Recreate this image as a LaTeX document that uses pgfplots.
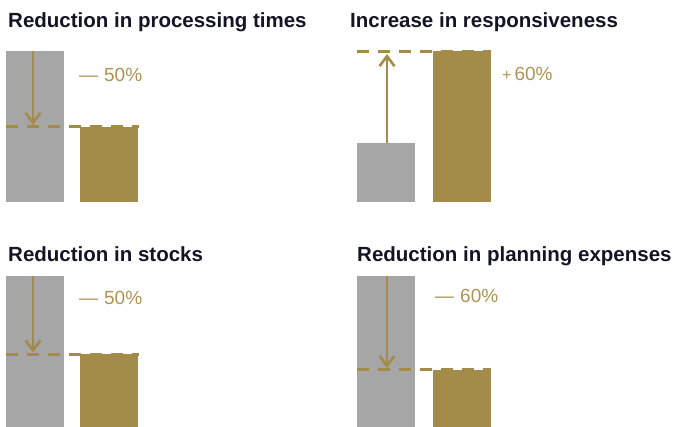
\documentclass[border=0pt]{standalone}
\usepackage{pgfplots}
\pgfplotsset{compat=1.18}
\usepackage{fontspec}
\setmainfont{Liberation Sans}
\usetikzlibrary{arrows.meta}

\definecolor{barGray}{RGB}{166,166,166}
\definecolor{barGold}{RGB}{163,139,74}
\definecolor{txtGold}{RGB}{172,148,86}
\definecolor{titleInk}{RGB}{20,20,36}

\pgfplotsset{
  panel/.style={
    scale only axis, axis lines=none, clip=false,
    xmin=0, xmax=140, ymin=0, ymax=100, width=140pt,
    xtick=\empty, ytick=\empty, anchor=south west,
  },
  grayBar/.style={ybar, bar width=58, bar shift=0pt, fill=barGray, draw=none},
  goldBar/.style={ybar, bar width=58, bar shift=0pt, fill=barGold, draw=none},
  level/.style={barGold, line width=3pt, dash pattern=on 12pt off 9pt},
  move/.style={barGold, line width=2.6pt, -{Straight Barb[length=10pt,width=15pt,line width=2.6pt]}},
}
\newcommand\titlefont{\fontsize{20.5}{24}\selectfont\bfseries}
\newcommand\labelfont{\fontsize{19}{22}\selectfont}

\begin{document}
\begin{tikzpicture}
\useasboundingbox (0pt,0pt) rectangle (676pt,-426pt);
\clip (0pt,0pt) rectangle (676pt,-426pt);

% titles
\node[anchor=base west, inner sep=0pt, text=titleInk, font=\titlefont] at (8pt,-27pt) {Reduction in processing times};
\node[anchor=base west, inner sep=0pt, text=titleInk, font=\titlefont] at (350pt,-27pt) {Increase in responsiveness};
\node[anchor=base west, inner sep=0pt, text=titleInk, font=\titlefont] at (8pt,-261pt) {Reduction in stocks};
\node[anchor=base west, inner sep=0pt, text=titleInk, font=\titlefont] at (357pt,-261pt) {Reduction in planning expenses};

% processing times
\begin{axis}[panel, height=151pt, at={(6pt,-202pt)}]
  \addplot[grayBar] coordinates {(29,100)};
  \addplot[goldBar] coordinates {(103,50)};
  \addplot[level] coordinates {(0,50) (133,50)};
  \addplot[move] coordinates {(27,100) (27,51)};
  \node[anchor=west, inner sep=0pt, text=txtGold, font=\labelfont] at (axis cs:73,84) {—\hspace{6pt}50\%};
\end{axis}

% responsiveness
\begin{axis}[panel, height=151pt, at={(357pt,-202pt)}]
  \addplot[grayBar] coordinates {(29,39)};
  \addplot[goldBar] coordinates {(105,100)};
  \addplot[level] coordinates {(0,100) (134,100)};
  \addplot[move] coordinates {(30,39) (30,98)};
  \node[anchor=west, inner sep=0pt, text=txtGold, font=\labelfont] at (axis cs:145,85) {{\fontsize{16}{16}\selectfont +}\hspace{3pt}60\%};
\end{axis}

% stocks
\begin{axis}[panel, height=156pt, at={(6pt,-432pt)}]
  \addplot[grayBar] coordinates {(29,100)};
  \addplot[goldBar] coordinates {(103,50)};
  \addplot[level] coordinates {(0,50) (133,50)};
  \addplot[move] coordinates {(27,100) (27,51)};
  \node[anchor=west, inner sep=0pt, text=txtGold, font=\labelfont] at (axis cs:73,86) {—\hspace{6pt}50\%};
\end{axis}

% planning expenses
\begin{axis}[panel, height=156pt, at={(357pt,-432pt)}]
  \addplot[grayBar] coordinates {(29,100)};
  \addplot[goldBar] coordinates {(105,40)};
  \addplot[level] coordinates {(0,40) (134,40)};
  \addplot[move] coordinates {(30,100) (30,41)};
  \node[anchor=west, inner sep=0pt, text=txtGold, font=\labelfont] at (axis cs:78,87) {—\hspace{6pt}60\%};
\end{axis}
\end{tikzpicture}
\end{document}
